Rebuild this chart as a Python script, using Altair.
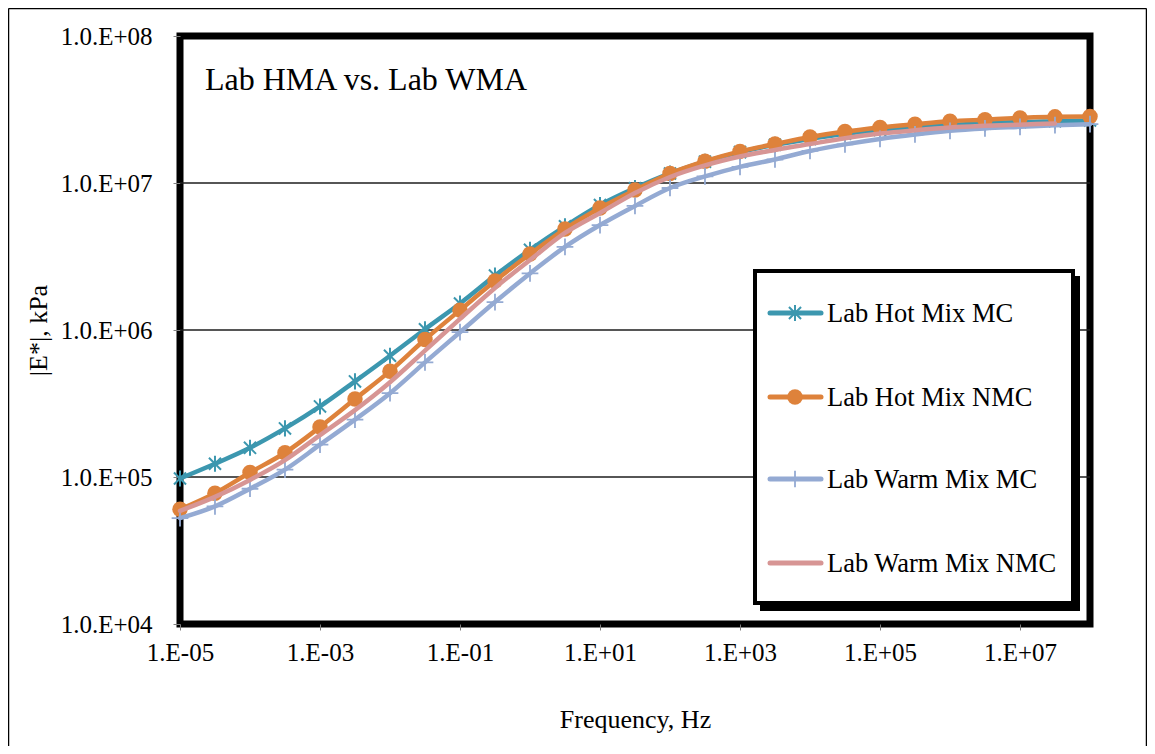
import altair as alt
import pandas as pd

# ---------------- data ----------------
freq = [1e-5, 3.16e-5, 1e-4, 3.16e-4, 1e-3, 3.16e-3, 1e-2, 3.16e-2, 1e-1, 3.16e-1,
        1.0, 3.16, 10.0, 31.6, 100.0, 316.0, 1e3, 3.16e3, 1e4, 3.16e4,
        1e5, 3.16e5, 1e6, 3.16e6, 1e7, 3.16e7, 1e8]

hot_mc = [97700, 123000, 158000, 214000, 302000, 447000, 668000, 1012000, 1514000, 2344000,
          3508000, 5070000, 7079000, 9226000, 11610000, 13960000, 16220000, 18200000, 19950000, 21630000,
          22910000, 23990000, 24830000, 25410000, 26000000, 26300000, 26610000]

hot_nmc = [60260, 77620, 107200, 146200, 218800, 338800, 524800, 861000, 1365000, 2153000,
           3289000, 4864000, 6761000, 8954000, 11610000, 14060000, 16410000, 18410000, 20560000, 22390000,
           23880000, 25120000, 26300000, 26980000, 27670000, 28180000, 28310000]

warm_mc = [52480, 63100, 83180, 112200, 166000, 245500, 371500, 602600, 966000, 1549000,
           2427000, 3673000, 5176000, 6982000, 9247000, 11090000, 12880000, 14450000, 16520000, 18320000,
           19950000, 21380000, 22650000, 23500000, 24100000, 24720000, 25120000]

warm_nmc = [58880, 73280, 95500, 130300, 192800, 285100, 441600, 724400, 1189000, 1932000,
            2992000, 4571000, 6252000, 8551000, 10990000, 13180000, 15140000, 16790000, 18410000, 20140000,
            21680000, 22860000, 23880000, 24490000, 24950000, 25410000]

series_names = ["Lab Hot Mix MC", "Lab Hot Mix NMC", "Lab Warm Mix MC", "Lab Warm Mix NMC"]
series_values = [hot_mc, hot_nmc, warm_mc, warm_nmc]
colors = ["#3C97AF", "#DE823B", "#94AAD3", "#D79594"]

x_ticks = [1e-5, 1e-3, 1e-1, 1e1, 1e3, 1e5, 1e7]
y_ticks = [1e4, 1e5, 1e6, 1e7, 1e8]
grid_values = [1e5, 1e6, 1e7]

chart_title = "Lab HMA vs. Lab WMA"
x_title = "Frequency, Hz"
y_title = "|E*|, kPa"

FONT = "Liberation Serif"
ASTERISK = "M0,-1L0,1M-0.75,-0.75L0.75,0.75M-0.75,0.75L0.75,-0.75"
PLUS = "M-1,0L1,0M0,-1L0,1"

# ---------------- scales / axes ----------------
xscale = alt.Scale(type="log", domain=[1e-5, 1e8], nice=False)
yscale = alt.Scale(type="log", domain=[1e4, 1e8], nice=False)

xaxis = alt.Axis(
    values=x_ticks,
    labelExpr="'1.E' + (datum.value < 1 ? '-' : '+') + format(abs(round(log(datum.value)/LN10)), '02d')",
    title=x_title, grid=False, domain=False, labelFlush=False, labelOverlap=False,
    tickColor="#808080", tickSize=6, tickWidth=1,
    labelFont=FONT, labelFontSize=25, labelColor="black", labelPadding=10,
    titleFont=FONT, titleFontSize=26, titleFontWeight="normal", titleColor="black", titlePadding=41,
)
yaxis = alt.Axis(
    values=y_ticks,
    labelExpr="'1.0.E+' + format(round(log(datum.value)/LN10), '02d')",
    title=y_title, grid=False, domain=False, labelFlush=False, labelOverlap=False,
    tickColor="#808080", tickSize=7, tickWidth=1,
    labelFont=FONT, labelFontSize=25, labelColor="black", labelPadding=21,
    titleFont=FONT, titleFontSize=26, titleFontWeight="normal", titleColor="black", titlePadding=9,
)

one = pd.DataFrame({"a": [0]})

layers = []

# gridlines
grid = alt.Chart(pd.DataFrame({"g": grid_values})).mark_rule(color="#1e1e1e", strokeWidth=1.3).encode(
    y=alt.Y("g:Q", scale=yscale, axis=yaxis)
)
layers.append(grid)

for i, (name, vals, col) in enumerate(zip(series_names, series_values, colors)):
    df = pd.DataFrame({"f": freq[:len(vals)], "E": vals})
    base = alt.Chart(df).encode(
        x=alt.X("f:Q", scale=xscale, axis=xaxis),
        y=alt.Y("E:Q", scale=yscale, axis=yaxis),
    )
    layers.append(base.mark_line(color=col, strokeWidth=4.5, interpolate="monotone",
                                 strokeCap="round", strokeJoin="round"))
    if i == 0:
        layers.append(base.mark_point(shape=ASTERISK, size=260, filled=False, stroke=col,
                                      strokeWidth=2, opacity=1))
    elif i == 1:
        layers.append(base.mark_point(shape="circle", size=240, filled=True, color=col, opacity=1))
    elif i == 2:
        layers.append(base.mark_point(shape=PLUS, size=280, filled=False, stroke=col,
                                      strokeWidth=1.8, opacity=1))

# chart title inside plot
layers.append(alt.Chart(one).mark_text(font=FONT, fontSize=32, align="left", baseline="middle",
                                       color="black").encode(
    x=alt.value(25), y=alt.value(44), text=alt.value(chart_title)))

# legend box with shadow
layers.append(alt.Chart(one).mark_rect(color="black").encode(
    x=alt.value(580), x2=alt.value(900), y=alt.value(240), y2=alt.value(575)))
layers.append(alt.Chart(one).mark_rect(fill="white", stroke="black", strokeWidth=4).encode(
    x=alt.value(575), x2=alt.value(893), y=alt.value(235), y2=alt.value(567)))

leg_y = [277, 361, 443, 527]
for i, (name, col) in enumerate(zip(series_names, colors)):
    yy = leg_y[i]
    layers.append(alt.Chart(one).mark_rule(color=col, strokeWidth=5, strokeCap="round").encode(
        x=alt.value(590), x2=alt.value(641), y=alt.value(yy)))
    if i == 0:
        layers.append(alt.Chart(one).mark_point(shape=ASTERISK, size=260, filled=False, stroke=col,
                                                strokeWidth=2, opacity=1).encode(
            x=alt.value(615), y=alt.value(yy)))
    elif i == 1:
        layers.append(alt.Chart(one).mark_point(shape="circle", size=240, filled=True, color=col,
                                                opacity=1).encode(
            x=alt.value(615), y=alt.value(yy)))
    elif i == 2:
        layers.append(alt.Chart(one).mark_point(shape=PLUS, size=280, filled=False, stroke=col,
                                                strokeWidth=1.8, opacity=1).encode(
            x=alt.value(615), y=alt.value(yy)))
    layers.append(alt.Chart(one).mark_text(font=FONT, fontSize=26.5, align="left", baseline="middle",
                                           color="black").encode(
        x=alt.value(647), y=alt.value(yy + 1), text=alt.value(name)))

# outer chart border
layers.append(alt.Chart(one).mark_rule(color="black", strokeWidth=1.5).encode(
    x=alt.value(-171.5), y=alt.value(-27.5), y2=alt.value(720)))
layers.append(alt.Chart(one).mark_rule(color="black", strokeWidth=1.5).encode(
    x=alt.value(-171.5), x2=alt.value(966.5), y=alt.value(-27.5)))
layers.append(alt.Chart(one).mark_rule(color="black", strokeWidth=1.5).encode(
    x=alt.value(966.5), y=alt.value(-27.5), y2=alt.value(720)))

chart = alt.layer(*layers).properties(
    width=910, height=588,
    autosize=alt.AutoSizeParams(type="none"),
    padding={"left": 172, "top": 28, "right": 57, "bottom": 122},
    background="white",
).configure_view(stroke="black", strokeWidth=7)

chart.save("out.html", embed_options={"renderer": "svg", "actions": False})
